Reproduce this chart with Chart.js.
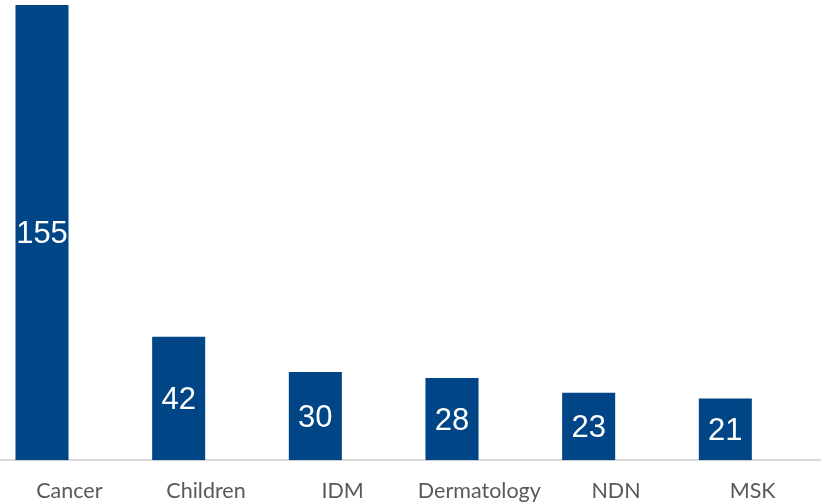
<!DOCTYPE html>
<html>
<head>
<meta charset="utf-8">
<script src="https://cdn.jsdelivr.net/npm/chart.js@4.4.0/dist/chart.umd.min.js"></script>
<style>
  html, body { margin: 0; padding: 0; background: #fff; }
  canvas { display: block; }
</style>
</head>
<body>
<canvas id="myChart" width="821" height="504"></canvas>
<script>
const categories = ['Cancer', 'Children', 'IDM', 'Dermatology', 'NDN', 'MSK'];
const counts = [155, 42, 30, 28, 23, 21];
const emptySeries = [null, null, null, null, null, null];

// draw the value in the middle of each bar
const valueLabels = {
  id: 'valueLabels',
  afterDatasetsDraw(chart) {
    const ctx = chart.ctx;
    const meta = chart.getDatasetMeta(0);
    ctx.save();
    ctx.fillStyle = '#ffffff';
    ctx.font = '31px "Liberation Sans", Arial, sans-serif';
    ctx.textAlign = 'center';
    ctx.textBaseline = 'middle';
    meta.data.forEach((bar, i) => {
      const midY = (bar.y + bar.base) / 2;
      ctx.fillText(String(counts[i]), bar.x, midY + 2);
    });
    ctx.restore();
  }
};

const ctx = document.getElementById('myChart').getContext('2d');
new Chart(ctx, {
  type: 'bar',
  data: {
    labels: categories,
    datasets: [
      { data: counts, backgroundColor: '#004586', barPercentage: 0.97, categoryPercentage: 0.8 },
      { data: emptySeries, backgroundColor: '#004586', barPercentage: 0.97, categoryPercentage: 0.8 }
    ]
  },
  options: {
    responsive: false,
    animation: false,
    layout: { padding: { top: 5, left: 1, right: 0, bottom: -18 } },
    plugins: {
      legend: { display: false },
      tooltip: { enabled: false }
    },
    scales: {
      x: {
        grid: { display: false, drawTicks: false },
        border: { display: true, color: '#d9d9d9', width: 2 },
        ticks: {
          color: '#595959',
          padding: 18,
          font: { family: 'Lato, "Open Sans", sans-serif', size: 21.5 }
        }
      },
      y: {
        display: false,
        min: 0,
        max: 155
      }
    }
  },
  plugins: [valueLabels]
});
</script>
</body>
</html>
